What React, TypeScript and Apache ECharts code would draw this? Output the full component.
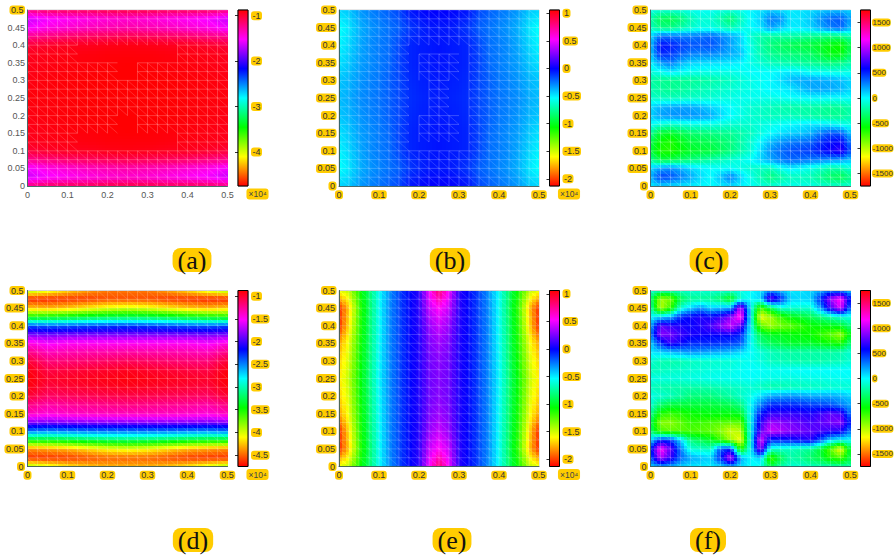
import React, { useEffect, useRef } from "react";
import * as echarts from "echarts";

// Mesh node coordinates of the fields.
const nodesFine = [0, 0.025, 0.05, 0.075, 0.1, 0.125, 0.15, 0.175, 0.2, 0.225, 0.25, 0.275, 0.3, 0.325, 0.35, 0.375, 0.4, 0.425, 0.45, 0.475, 0.5];
const nodesCoarse = [0, 0.05, 0.1, 0.15, 0.2, 0.25, 0.3, 0.35, 0.4, 0.45, 0.5];
const rowsFine = [0.5, 0.475, 0.45, 0.425, 0.4, 0.375, 0.35, 0.325, 0.3, 0.275, 0.25, 0.225, 0.2, 0.175, 0.15, 0.125, 0.1, 0.075, 0.05, 0.025, 0];
const rowsCoarse = [0.5, 0.45, 0.4, 0.35, 0.3, 0.25, 0.2, 0.15, 0.1, 0.05, 0];
const xTicks = [0, 0.1, 0.2, 0.3, 0.4, 0.5];
const yTicks = [0, 0.05, 0.1, 0.15, 0.2, 0.25, 0.3, 0.35, 0.4, 0.45, 0.5];

// Values; rows run from y = 0.5 down to y = 0.
// (a) x10^4, 11 columns x 21 rows
const valuesA = [
  [-1.2, -1.12, -1.1, -1.1, -1.06, -1.05, -1.06, -1.1, -1.1, -1.12, -1.2],
  [-1.65, -1.55, -1.5, -1.46, -1.42, -1.4, -1.42, -1.46, -1.5, -1.55, -1.65],
  [-1.55, -1.45, -1.4, -1.35, -1.32, -1.3, -1.32, -1.35, -1.4, -1.45, -1.55],
  [-1.25, -1.2, -1.15, -1.12, -1.1, -1.08, -1.1, -1.12, -1.15, -1.2, -1.25],
  [-1.02, -0.98, -0.95, -0.95, -0.93, -0.92, -0.93, -0.95, -0.95, -0.98, -1.02],
  [-0.95, -0.93, -0.92, -0.91, -0.9, -0.9, -0.9, -0.91, -0.92, -0.93, -0.95],
  [-0.94, -0.92, -0.9, -0.9, -0.89, -0.88, -0.89, -0.9, -0.9, -0.92, -0.94],
  [-0.93, -0.91, -0.9, -0.89, -0.88, -0.88, -0.88, -0.89, -0.9, -0.91, -0.93],
  [-0.92, -0.9, -0.89, -0.88, -0.88, -0.88, -0.88, -0.88, -0.89, -0.9, -0.92],
  [-0.91, -0.9, -0.89, -0.88, -0.88, -0.88, -0.88, -0.88, -0.89, -0.9, -0.91],
  [-0.9, -0.9, -0.89, -0.88, -0.88, -0.88, -0.88, -0.88, -0.89, -0.9, -0.9],
  [-0.91, -0.9, -0.89, -0.88, -0.88, -0.88, -0.88, -0.88, -0.89, -0.9, -0.91],
  [-0.92, -0.9, -0.89, -0.88, -0.88, -0.88, -0.88, -0.88, -0.89, -0.9, -0.92],
  [-0.93, -0.91, -0.9, -0.89, -0.88, -0.88, -0.88, -0.89, -0.9, -0.91, -0.93],
  [-0.94, -0.92, -0.9, -0.9, -0.89, -0.88, -0.89, -0.9, -0.9, -0.92, -0.94],
  [-0.95, -0.93, -0.92, -0.91, -0.9, -0.9, -0.9, -0.91, -0.92, -0.93, -0.95],
  [-1.02, -0.98, -0.95, -0.95, -0.93, -0.92, -0.93, -0.95, -0.95, -0.98, -1.02],
  [-1.25, -1.2, -1.15, -1.12, -1.1, -1.08, -1.1, -1.12, -1.15, -1.2, -1.25],
  [-1.55, -1.45, -1.4, -1.35, -1.32, -1.3, -1.32, -1.35, -1.4, -1.45, -1.55],
  [-1.65, -1.55, -1.5, -1.46, -1.42, -1.4, -1.42, -1.46, -1.5, -1.55, -1.65],
  [-1.2, -1.12, -1.1, -1.1, -1.06, -1.05, -1.06, -1.1, -1.1, -1.12, -1.2],
];

// (b) x10^4, 21 columns x 11 rows
const valuesB = [
  [-0.45, -0.42, -0.33, -0.28, -0.24, -0.2, -0.15, -0.05, -0.02, 0, 0, 0, -0.02, -0.05, -0.15, -0.2, -0.24, -0.28, -0.33, -0.42, -0.45],
  [-0.55, -0.48, -0.38, -0.32, -0.28, -0.24, -0.2, -0.12, -0.08, -0.05, -0.05, -0.05, -0.08, -0.12, -0.2, -0.24, -0.28, -0.32, -0.38, -0.48, -0.55],
  [-0.52, -0.45, -0.36, -0.3, -0.26, -0.23, -0.15, -0.08, -0.06, -0.05, -0.04, -0.05, -0.06, -0.08, -0.15, -0.23, -0.26, -0.3, -0.36, -0.45, -0.52],
  [-0.48, -0.42, -0.34, -0.3, -0.26, -0.22, -0.14, -0.08, -0.06, -0.05, -0.04, -0.05, -0.06, -0.08, -0.14, -0.22, -0.26, -0.3, -0.34, -0.42, -0.48],
  [-0.42, -0.38, -0.32, -0.28, -0.25, -0.2, -0.15, -0.09, -0.07, -0.06, -0.05, -0.06, -0.07, -0.09, -0.15, -0.2, -0.25, -0.28, -0.32, -0.38, -0.42],
  [-0.4, -0.36, -0.3, -0.27, -0.24, -0.2, -0.15, -0.1, -0.08, -0.07, -0.06, -0.07, -0.08, -0.1, -0.15, -0.2, -0.24, -0.27, -0.3, -0.36, -0.4],
  [-0.42, -0.38, -0.32, -0.28, -0.25, -0.2, -0.15, -0.09, -0.07, -0.06, -0.05, -0.06, -0.07, -0.09, -0.15, -0.2, -0.25, -0.28, -0.32, -0.38, -0.42],
  [-0.48, -0.42, -0.34, -0.3, -0.26, -0.22, -0.14, -0.08, -0.06, -0.05, -0.04, -0.05, -0.06, -0.08, -0.14, -0.22, -0.26, -0.3, -0.34, -0.42, -0.48],
  [-0.52, -0.45, -0.36, -0.3, -0.26, -0.23, -0.15, -0.08, -0.06, -0.05, -0.04, -0.05, -0.06, -0.08, -0.15, -0.23, -0.26, -0.3, -0.36, -0.45, -0.52],
  [-0.55, -0.48, -0.38, -0.32, -0.28, -0.24, -0.2, -0.12, -0.08, -0.05, -0.05, -0.05, -0.08, -0.12, -0.2, -0.24, -0.28, -0.32, -0.38, -0.48, -0.55],
  [-0.45, -0.42, -0.33, -0.28, -0.24, -0.2, -0.15, -0.05, -0.02, 0, 0, 0, -0.02, -0.05, -0.15, -0.2, -0.24, -0.28, -0.33, -0.42, -0.45],
];

// (c) 21 columns x 21 rows
const valuesC = [
  [-50, -100, -100, -80, -40, -20, -20, -60, -80, -40, 20, 60, 120, 80, 40, 60, 80, 120, 150, 150, 100],
  [-200, -380, -400, -320, -180, -90, -100, -200, -320, -150, 0, 100, 300, 250, 50, 60, 120, 250, 350, 380, 200],
  [-150, -280, -280, -200, -120, -60, -60, -110, -170, -80, 0, 60, 220, 120, 40, 50, 100, 200, 300, 350, 150],
  [80, 330, 320, 300, 300, 320, 350, 280, 200, 100, -100, -180, -220, -210, -200, -220, -250, -270, -300, -280, -180],
  [150, 560, 520, 450, 400, 390, 400, 320, 210, 90, -60, -200, -300, -360, -400, -430, -450, -500, -560, -610, -400],
  [120, 500, 460, 370, 300, 280, 280, 240, 190, 140, -50, -170, -250, -290, -310, -330, -360, -450, -550, -560, -350],
  [20, 220, 300, 170, 100, 80, 70, 60, 50, 20, -50, -100, -150, -180, -200, -230, -250, -280, -310, -280, -190],
  [-80, -30, 40, 0, -40, -50, -50, -50, -50, -30, 0, 0, 0, 30, 50, 30, -20, -30, -50, -60, -50],
  [-200, -250, -260, -250, -240, -220, -200, -170, -140, -90, -50, -20, 10, 70, 150, 190, 200, 190, 180, 150, 90],
  [-180, -230, -250, -230, -200, -170, -150, -120, -100, -70, -50, -20, 20, 30, 60, 130, 200, 210, 200, 170, 90],
  [-120, -150, -160, -150, -130, -120, -100, -80, -60, -40, -30, -40, -50, -30, -10, 0, 10, 10, 0, 0, 0],
  [80, 170, 200, 210, 200, 160, 100, 50, 0, -50, -100, -120, -150, -180, -200, -200, -200, -220, -250, -240, -190],
  [100, 220, 250, 260, 250, 230, 190, 90, 0, -50, -100, -130, -150, -150, -150, -180, -200, -230, -250, -250, -190],
  [0, -70, -110, -80, -50, -50, -50, -70, -90, -100, -100, -70, -50, -20, 0, 30, 50, 30, 0, -50, -80],
  [-240, -480, -500, -420, -350, -320, -300, -270, -250, -200, -150, -70, 0, 60, 100, 120, 170, 300, 400, 380, 120],
  [-400, -600, -650, -540, -450, -420, -400, -350, -300, -200, -100, 20, 150, 240, 300, 330, 360, 480, 560, 600, 300],
  [-440, -650, -660, -570, -500, -470, -450, -380, -300, -200, -100, 80, 250, 340, 400, 430, 460, 540, 620, 700, 400],
  [-240, -420, -410, -350, -300, -250, -200, -150, -100, -50, 0, 100, 200, 290, 350, 330, 300, 280, 250, 220, 130],
  [90, 210, 250, 170, 90, 30, 0, -20, -20, -60, -100, -130, -150, -30, 50, 0, -50, -120, -200, -180, -90],
  [180, 440, 400, 300, 200, 80, 0, 140, 300, 100, -50, -180, -300, -220, -150, -150, -170, -260, -350, -400, -280],
  [40, 100, 80, 60, 40, 10, 0, 40, 80, 30, -20, -70, -100, -60, -50, -50, -60, -100, -120, -120, -100],
];

// (d) x10^4, 11 columns x 21 rows
const valuesD = [
  [-3.85, -4.0, -4.2, -4.35, -4.45, -4.45, -4.45, -4.35, -4.2, -4.0, -3.85],
  [-4.65, -4.65, -4.62, -4.6, -4.55, -4.55, -4.55, -4.6, -4.62, -4.65, -4.65],
  [-4.25, -4.3, -4.25, -4.15, -4.05, -4.0, -4.05, -4.15, -4.25, -4.3, -4.25],
  [-3.5, -3.45, -3.4, -3.32, -3.27, -3.25, -3.27, -3.32, -3.4, -3.45, -3.5],
  [-2.35, -2.4, -2.38, -2.35, -2.32, -2.3, -2.32, -2.35, -2.38, -2.4, -2.35],
  [-1.85, -1.88, -1.86, -1.85, -1.85, -1.85, -1.85, -1.85, -1.86, -1.88, -1.85],
  [-1.45, -1.55, -1.5, -1.5, -1.5, -1.5, -1.5, -1.5, -1.5, -1.55, -1.45],
  [-1.2, -1.35, -1.32, -1.3, -1.3, -1.28, -1.3, -1.3, -1.32, -1.35, -1.2],
  [-1.0, -1.18, -1.17, -1.15, -1.12, -1.1, -1.12, -1.15, -1.17, -1.18, -1.0],
  [-0.9, -1.05, -1.03, -1.0, -0.98, -0.95, -0.98, -1.0, -1.03, -1.05, -0.9],
  [-0.88, -0.98, -0.96, -0.94, -0.92, -0.9, -0.92, -0.94, -0.96, -0.98, -0.88],
  [-0.9, -1.03, -1.0, -0.98, -0.96, -0.94, -0.96, -0.98, -1.0, -1.03, -0.9],
  [-1.0, -1.12, -1.1, -1.08, -1.06, -1.05, -1.06, -1.08, -1.1, -1.12, -1.0],
  [-1.2, -1.3, -1.26, -1.24, -1.22, -1.2, -1.22, -1.24, -1.26, -1.3, -1.2],
  [-1.35, -1.42, -1.38, -1.36, -1.35, -1.35, -1.35, -1.36, -1.38, -1.42, -1.35],
  [-1.85, -1.88, -1.86, -1.85, -1.85, -1.85, -1.85, -1.85, -1.86, -1.88, -1.85],
  [-2.45, -2.5, -2.48, -2.45, -2.45, -2.45, -2.45, -2.45, -2.48, -2.5, -2.45],
  [-3.4, -3.4, -3.35, -3.28, -3.22, -3.2, -3.22, -3.28, -3.35, -3.4, -3.4],
  [-4.4, -4.35, -4.3, -4.2, -4.1, -4.05, -4.1, -4.2, -4.3, -4.35, -4.4],
  [-4.62, -4.62, -4.6, -4.55, -4.5, -4.5, -4.5, -4.55, -4.6, -4.62, -4.62],
  [-3.85, -4.0, -4.15, -4.25, -4.3, -4.3, -4.3, -4.25, -4.15, -4.0, -3.85],
];

// (e) x10^4, 21 columns x 11 rows
const valuesE = [
  [-1.55, -1.45, -1.12, -0.85, -0.55, -0.32, -0.15, -0.02, 0.08, 0.5, 0.85, 0.5, 0.08, -0.02, -0.15, -0.32, -0.55, -0.85, -1.12, -1.45, -1.55],
  [-2.05, -1.7, -1.2, -0.88, -0.55, -0.3, -0.15, -0.02, 0.08, 0.4, 0.55, 0.4, 0.08, -0.02, -0.15, -0.3, -0.55, -0.88, -1.2, -1.7, -2.05],
  [-2.05, -1.65, -1.18, -0.86, -0.55, -0.3, -0.15, -0.02, 0.07, 0.3, 0.42, 0.3, 0.07, -0.02, -0.15, -0.3, -0.55, -0.86, -1.18, -1.65, -2.05],
  [-1.8, -1.55, -1.15, -0.85, -0.54, -0.3, -0.15, -0.02, 0.06, 0.25, 0.33, 0.25, 0.06, -0.02, -0.15, -0.3, -0.54, -0.85, -1.15, -1.55, -1.8],
  [-1.7, -1.5, -1.12, -0.84, -0.53, -0.3, -0.15, -0.02, 0.06, 0.22, 0.28, 0.22, 0.06, -0.02, -0.15, -0.3, -0.53, -0.84, -1.12, -1.5, -1.7],
  [-1.65, -1.45, -1.1, -0.82, -0.52, -0.3, -0.15, -0.02, 0.06, 0.22, 0.27, 0.22, 0.06, -0.02, -0.15, -0.3, -0.52, -0.82, -1.1, -1.45, -1.65],
  [-1.7, -1.5, -1.12, -0.84, -0.53, -0.3, -0.15, -0.02, 0.06, 0.22, 0.28, 0.22, 0.06, -0.02, -0.15, -0.3, -0.53, -0.84, -1.12, -1.5, -1.7],
  [-1.8, -1.55, -1.15, -0.85, -0.54, -0.3, -0.15, -0.02, 0.06, 0.25, 0.33, 0.25, 0.06, -0.02, -0.15, -0.3, -0.54, -0.85, -1.15, -1.55, -1.8],
  [-2.05, -1.65, -1.18, -0.86, -0.55, -0.3, -0.15, -0.02, 0.07, 0.3, 0.42, 0.3, 0.07, -0.02, -0.15, -0.3, -0.55, -0.86, -1.18, -1.65, -2.05],
  [-2.05, -1.7, -1.2, -0.88, -0.55, -0.3, -0.15, -0.02, 0.08, 0.4, 0.55, 0.4, 0.08, -0.02, -0.15, -0.3, -0.55, -0.88, -1.2, -1.7, -2.05],
  [-1.55, -1.45, -1.12, -0.85, -0.55, -0.32, -0.15, -0.02, 0.08, 0.5, 0.85, 0.5, 0.08, -0.02, -0.15, -0.32, -0.55, -0.85, -1.12, -1.45, -1.55],
];

// (f) 21 columns x 21 rows
const valuesF = [
  [-100, -150, -150, -130, -100, -100, -100, -100, -100, -60, 0, 60, 250, 150, 50, 60, 100, 180, 300, 280, 100],
  [-300, -950, -850, -400, -250, -240, -250, -350, -550, -100, 0, 100, 850, 500, 100, 90, 100, 500, 950, 1200, 500],
  [-200, -1000, -700, -100, 100, 250, 100, 150, 200, 1050, 0, -750, -400, -100, -100, -100, -100, 250, 750, 1100, 300],
  [0, 100, 200, 500, 600, 650, 600, 700, 900, 1250, 0, -1150, -950, -700, -550, -480, -400, -300, -200, -100, -50],
  [200, 800, 700, 650, 600, 650, 750, 900, 1050, 800, 0, -800, -950, -850, -800, -700, -600, -570, -550, -500, -300],
  [300, 900, 850, 720, 650, 620, 600, 600, 600, 500, 0, -400, -500, -520, -550, -570, -600, -700, -800, -950, -500],
  [100, 500, 700, 600, 500, 500, 500, 480, 450, 400, 0, -300, -400, -450, -500, -500, -500, -550, -600, -650, -300],
  [50, 100, 150, 200, 250, 230, 200, 180, 150, 80, 0, -80, -150, -180, -200, -200, -200, -200, -200, -180, -100],
  [-100, -180, -200, -180, -150, -130, -120, -110, -100, -60, -30, -80, -150, -170, -190, -200, -200, -200, -180, -160, -100],
  [-150, -150, -130, -120, -100, -90, -70, -60, -50, -20, 0, -10, -30, -20, -10, 0, 0, 0, 0, 0, 0],
  [-50, -60, -70, -70, -60, -50, -40, -30, -30, -20, -10, -30, -50, -60, -70, -60, -50, -50, -40, -30, -20],
  [-150, -190, -200, -200, -200, -200, -190, -170, -150, -130, -100, -150, -200, -190, -170, -160, -150, -140, -120, -110, -100],
  [-50, -100, -150, -220, -300, -300, -300, -250, -200, -120, -50, 80, 200, 230, 250, 230, 200, 200, 200, 170, 100],
  [-100, -350, -450, -450, -450, -450, -450, -430, -400, -300, 0, 300, 500, 500, 500, 480, 450, 430, 400, 300, 200],
  [-250, -650, -700, -650, -600, -570, -550, -550, -550, -500, 0, 550, 700, 700, 700, 680, 650, 720, 800, 750, 300],
  [-400, -900, -900, -800, -700, -720, -750, -780, -800, -800, 0, 700, 950, 900, 850, 800, 750, 800, 850, 900, 500],
  [-350, -750, -800, -780, -750, -770, -800, -900, -1050, -1000, 0, 800, 1050, 980, 900, 850, 800, 750, 700, 650, 300],
  [100, 500, 450, 100, -300, -400, -500, -700, -950, -1150, 0, 1100, 500, 520, 550, 600, 650, 400, 100, 0, 0],
  [500, 1200, 800, 300, -100, -130, -150, 400, 500, -700, 0, 950, -100, -120, -150, -200, -250, -450, -800, -1150, -400],
  [400, 1000, 700, 350, 200, 150, 100, 500, 1050, 200, 0, 100, -750, -400, -200, -250, -350, -450, -650, -750, -400],
  [100, 200, 180, 100, 50, 40, 30, 80, 200, 80, 0, -50, -400, -200, -100, -100, -150, -170, -180, -200, -200],
];

// Colorbar tick values
const ticksA = [-1, -2, -3, -4];
const ticksBE = [1, 0.5, 0, -0.5, -1, -1.5, -2];
const ticksCF = [1500, 1000, 500, 0, -500, -1000, -1500];
const ticksD = [-1, -1.5, -2, -2.5, -3, -3.5, -4, -4.5];

// Mesh regions where the reference draws no mesh lines: [x0, x1, y0, y1]
const meshGapsA = [
  [0.125, 0.375, 0.35, 0.4], [0.125, 0.375, 0.1, 0.15],
  [0.225, 0.275, 0.3, 0.35], [0.225, 0.275, 0.15, 0.2],
];
const meshGapsB = [
  [0.175, 0.2, 0.1, 0.4], [0.3, 0.325, 0.1, 0.4],
  [0.2, 0.225, 0.2, 0.3], [0.275, 0.3, 0.2, 0.3],
  [0.2, 0.3, 0.375, 0.4], [0.2, 0.3, 0.1, 0.125],
];

const captions = ["(a)", "(b)", "(c)", "(d)", "(e)", "(f)"];
const captionX = [192, 450, 709, 193, 452, 708];
const plotLeft = [27.5, 339, 650.5];
const barLeft = [238, 549.5, 860.5];
const rowTop = [10, 290.5];
const HL = "#FFCC00";
const FONT = "Liberation Sans";

function hsvColor(t: number) {
  const h = (Math.max(0, Math.min(1, t)) * 6) % 6;
  const f = h - Math.floor(h);
  const seg = Math.floor(h);
  const up = Math.round(255 * f);
  const dn = 255 - up;
  const rgb = [[255, up, 0], [dn, 255, 0], [0, 255, up], [0, dn, 255], [up, 0, 255], [255, 0, dn]][seg];
  return `rgb(${rgb[0]},${rgb[1]},${rgb[2]})`;
}

const panels = [
  { values: valuesA, xs: nodesCoarse, ys: rowsFine, min: -4.75, max: -0.875, ticks: ticksA, gaps: meshGapsA, hlY: [0.5], hlX: [] as number[], exp: true, mesh: 0.28 },
  { values: valuesB, xs: nodesFine, ys: rowsCoarse, min: -2.13, max: 1.06, ticks: ticksBE, gaps: meshGapsB, hlY: yTicks, hlX: xTicks, exp: true, mesh: 0.28 },
  { values: valuesC, xs: nodesFine, ys: rowsFine, min: -1750, max: 1750, ticks: ticksCF, gaps: [], hlY: yTicks, hlX: xTicks, exp: false, mesh: 0.35 },
  { values: valuesD, xs: nodesCoarse, ys: rowsFine, min: -4.75, max: -0.875, ticks: ticksD, gaps: [], hlY: yTicks, hlX: xTicks, exp: true, mesh: 0.25 },
  { values: valuesE, xs: nodesFine, ys: rowsCoarse, min: -2.13, max: 1.06, ticks: ticksBE, gaps: [], hlY: yTicks, hlX: xTicks, exp: true, mesh: 0.25 },
  { values: valuesF, xs: nodesFine, ys: rowsFine, min: -1750, max: 1750, ticks: ticksCF, gaps: [], hlY: yTicks, hlX: xTicks, exp: false, mesh: 0.25 },
];

const richStyles = {
  h: { backgroundColor: HL, borderRadius: 3, padding: [0, 1.5, 0, 1.5], color: "#333", fontSize: 9, lineHeight: 9.5, fontFamily: FONT },
  p: { color: "#555", fontSize: 9, lineHeight: 9.5, fontFamily: FONT },
};
const richStylesNarrow = {
  h: { backgroundColor: HL, borderRadius: 3, padding: [0, 0.5, 0, 0.5], color: "#333", fontSize: 8, lineHeight: 9.5, fontFamily: FONT },
};

function buildOption() {
  const grid: any[] = [];
  const xAxis: any[] = [];
  const yAxis: any[] = [];
  const series: any[] = [];
  const graphic: any[] = [];

  panels.forEach((p, k) => {
    const col = k % 3;
    const top = rowTop[Math.floor(k / 3)];
    const plotIdx = grid.length;
    grid.push({ left: plotLeft[col], top, width: 200, height: 176, show: true, borderColor: "#bdbdbd", borderWidth: 0.8, backgroundColor: "transparent", outerBoundsMode: "none" });
    const tickLabel = (hl: number[]) => (v: number) => `{${hl.includes(v) ? "h" : "p"}|${v}}`;
    xAxis.push({
      gridIndex: plotIdx, type: "value", min: 0, max: 0.5, z: 6,
      axisLine: { show: true, lineStyle: { color: "#3a5a5a", width: 0.9 } },
      axisTick: { show: false }, splitLine: { show: false },
      axisLabel: { customValues: xTicks, margin: 4, formatter: tickLabel(p.hlX), rich: richStyles, hideOverlap: false },
    });
    yAxis.push({
      gridIndex: plotIdx, type: "value", min: 0, max: 0.5, z: 6,
      axisLine: { show: true, lineStyle: { color: "#3a5a5a", width: 0.9 } },
      axisTick: { show: false }, splitLine: { show: false },
      axisLabel: { customValues: yTicks, margin: 2.5, formatter: tickLabel(p.hlY), rich: richStyles, hideOverlap: false },
    });

    // One item per read value; each mesh cell is shaded between its four corner values.
    const fieldData: number[][] = [];
    p.ys.forEach((y, r) => p.xs.forEach((x, c) => fieldData.push([x, y, p.values[r][c]])));
    const nc = p.xs.length;
    const nr = p.ys.length;
    series.push({
      type: "custom", coordinateSystem: "cartesian2d", xAxisIndex: plotIdx, yAxisIndex: plotIdx,
      silent: true, z: 2, data: fieldData, clip: false,
      renderItem: (params: any, api: any) => {
        const i = params.dataIndex;
        const r = Math.floor(i / nc);
        const c = i % nc;
        if (r >= nr - 1 || c >= nc - 1) return null;
        const a = api.coord([p.xs[c], p.ys[r]]);
        const b = api.coord([p.xs[c + 1], p.ys[r + 1]]);
        const nx = Math.max(1, Math.round((b[0] - a[0]) / 3));
        const ny = Math.max(1, Math.round((b[1] - a[1]) / 3));
        const v = p.values;
        const children: any[] = [];
        for (let sx = 0; sx < nx; sx++) {
          const x0 = Math.round(a[0] + ((b[0] - a[0]) * sx) / nx);
          const x1 = Math.round(a[0] + ((b[0] - a[0]) * (sx + 1)) / nx);
          const u = (sx + 0.5) / nx;
          for (let sy = 0; sy < ny; sy++) {
            const y0 = Math.round(a[1] + ((b[1] - a[1]) * sy) / ny);
            const y1 = Math.round(a[1] + ((b[1] - a[1]) * (sy + 1)) / ny);
            const w = (sy + 0.5) / ny;
            const val = (1 - w) * ((1 - u) * v[r][c] + u * v[r][c + 1]) + w * ((1 - u) * v[r + 1][c] + u * v[r + 1][c + 1]);
            children.push({
              type: "rect", shape: { x: x0, y: y0, width: x1 - x0, height: y1 - y0 },
              style: { fill: hsvColor((val - p.min) / (p.max - p.min)) },
            });
          }
        }
        return { type: "group", children };
      },
    });

    // Triangular mesh overlay
    const meshData: number[][] = [];
    for (let r = 0; r < nodesFine.length - 1; r++) {
      for (let c = 0; c < nodesFine.length - 1; c++) meshData.push([nodesFine[c], nodesFine[r]]);
    }
    const stroke = `rgba(255,255,255,${p.mesh})`;
    const strokeDiag = `rgba(255,255,255,${p.mesh + 0.05})`;
    series.push({
      type: "custom", coordinateSystem: "cartesian2d", xAxisIndex: plotIdx, yAxisIndex: plotIdx,
      silent: true, z: 3, data: meshData, clip: false,
      renderItem: (_: any, api: any) => {
        const x = api.value(0);
        const y = api.value(1);
        const cx = x + 0.0125;
        const cy = y + 0.0125;
        if (p.gaps.some((g: number[]) => cx > g[0] && cx < g[1] && cy > g[2] && cy < g[3])) return null;
        const a = api.coord([x, y]);
        const b = api.coord([x + 0.025, y + 0.025]);
        const line = (x1: number, y1: number, x2: number, y2: number, s: string, lw: number) => ({
          type: "line", shape: { x1, y1, x2, y2 }, style: { stroke: s, lineWidth: lw, fill: "none" },
        });
        return {
          type: "group",
          children: [
            line(a[0], b[1], b[0], b[1], stroke, 0.8),
            line(a[0], a[1], a[0], b[1], stroke, 0.8),
            line(a[0], b[1], b[0], a[1], strokeDiag, 0.5),
          ],
        };
      },
    });

    // Colorbar
    const barIdx = grid.length;
    grid.push({ left: barLeft[col], top, width: 10, height: 176, show: true, borderColor: "#8a8a8a", borderWidth: 1, backgroundColor: "transparent", outerBoundsMode: "none" });
    xAxis.push({ gridIndex: barIdx, type: "value", min: 0, max: 1, show: false });
    yAxis.push({
      gridIndex: barIdx, type: "value", position: "right", min: p.min, max: p.max, z: 6,
      axisLine: { show: false }, splitLine: { show: false },
      axisTick: { show: true, inside: true, length: 3, customValues: p.ticks, lineStyle: { color: "#000", width: 0.8 } },
      axisLabel: {
        customValues: p.ticks, margin: col === 2 ? 1.5 : 3, formatter: (v: number) => `{h|${v}}`,
        rich: col === 2 ? richStylesNarrow : richStyles, hideOverlap: false,
      },
    });
    series.push({
      type: "custom", coordinateSystem: "cartesian2d", xAxisIndex: barIdx, yAxisIndex: barIdx,
      silent: true, z: 2, data: [[0, p.min, 1, p.max]],
      renderItem: (_: any, api: any) => {
        const a = api.coord([api.value(0), api.value(3)]);
        const b = api.coord([api.value(2), api.value(1)]);
        return {
          type: "rect", shape: { x: a[0], y: a[1], width: b[0] - a[0], height: b[1] - a[1] },
          style: {
            stroke: "#000", lineWidth: 1,
            fill: new echarts.graphic.LinearGradient(0, 0, 0, 1, [
              { offset: 0, color: "#ff0000" }, { offset: 1 / 6, color: "#ff00ff" }, { offset: 2 / 6, color: "#0000ff" },
              { offset: 3 / 6, color: "#00ffff" }, { offset: 4 / 6, color: "#00ff00" }, { offset: 5 / 6, color: "#ffff00" },
              { offset: 1, color: "#ff0000" },
            ]),
          },
        };
      },
    });

    if (p.exp) {
      graphic.push({
        type: "text", x: barLeft[col] + 19.5, y: top + 184, silent: true,
        style: {
          text: "×10⁴", fontSize: 8.5, fontFamily: FONT, fill: "#444", align: "center", verticalAlign: "middle",
          backgroundColor: HL, borderRadius: 3, padding: [1, 2, 1, 2],
        },
      });
    }
    graphic.push({
      type: "text", x: captionX[k], y: k < 3 ? 260 : 540, silent: true,
      style: {
        text: captions[k], fontSize: 26, fontFamily: "Liberation Serif", fill: "#111", align: "center", verticalAlign: "middle",
        backgroundColor: HL, borderRadius: 8, padding: [0, 5, 0, 5], lineHeight: 24,
      },
    });
  });

  return { animation: false, backgroundColor: "#fff", grid, xAxis, yAxis, series, graphic };
}

export default function App() {
  const ref = useRef<HTMLDivElement>(null);
  useEffect(() => {
    const chart = echarts.init(ref.current!, null, { renderer: "svg" });
    chart.setOption(buildOption() as any);
    return () => chart.dispose();
  }, []);
  return <div ref={ref} style={{ position: "absolute", left: 0, top: 0, width: 894, height: 558 }} />;
}
